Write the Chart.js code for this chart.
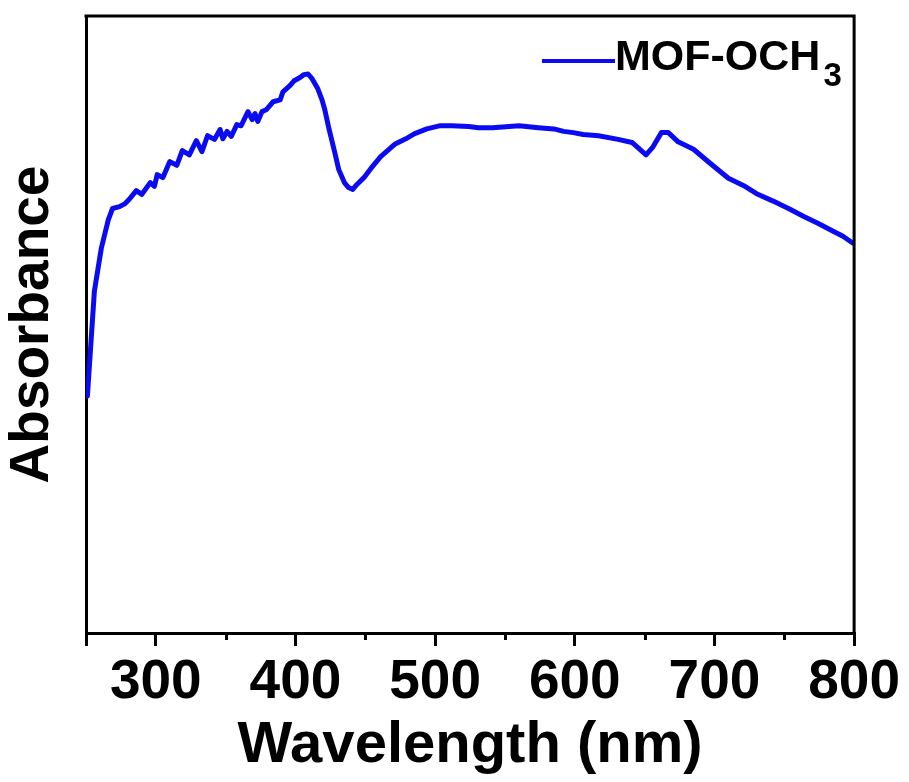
<!DOCTYPE html>
<html>
<head>
<meta charset="utf-8">
<script src="https://cdn.jsdelivr.net/npm/chart.js@4/dist/chart.umd.min.js"></script>
<style>
  html, body { margin: 0; padding: 0; background: #fff; }
  #wrap { width: 909px; height: 782px; }
</style>
</head>
<body>
<div id="wrap"><canvas id="c" width="909" height="782"></canvas></div>
<script>
// ---- data ----
const wavelength = [251, 256, 261, 266, 269, 274, 278, 281, 286, 290, 296, 299, 301, 305, 310, 315, 319, 324, 329, 333, 337, 342, 346, 348, 351, 354, 358, 361, 366, 369, 371, 373, 376, 379, 384, 389, 391, 396, 399, 403, 406, 409, 412, 416, 419, 421, 424, 428, 431, 435, 438, 441, 444, 449, 454, 461, 471, 479, 485, 494, 503, 512, 524, 531, 541, 553, 560, 574, 585, 592, 599, 606, 617, 631, 641, 646, 651, 656, 662, 667, 674, 685, 696, 710, 721, 731, 742, 753, 764, 774, 785, 792, 799];
const absorbance = [0.384, 0.554, 0.624, 0.670, 0.688, 0.691, 0.696, 0.703, 0.717, 0.711, 0.730, 0.724, 0.743, 0.738, 0.764, 0.758, 0.782, 0.775, 0.798, 0.780, 0.806, 0.800, 0.816, 0.801, 0.813, 0.805, 0.824, 0.822, 0.845, 0.832, 0.842, 0.829, 0.845, 0.848, 0.861, 0.864, 0.877, 0.887, 0.895, 0.900, 0.905, 0.906, 0.898, 0.882, 0.864, 0.848, 0.817, 0.780, 0.751, 0.730, 0.722, 0.719, 0.727, 0.738, 0.753, 0.772, 0.792, 0.801, 0.809, 0.817, 0.822, 0.822, 0.821, 0.819, 0.819, 0.821, 0.822, 0.819, 0.817, 0.813, 0.811, 0.808, 0.806, 0.800, 0.795, 0.785, 0.775, 0.788, 0.811, 0.811, 0.796, 0.784, 0.763, 0.737, 0.725, 0.711, 0.700, 0.688, 0.675, 0.664, 0.651, 0.643, 0.632];
const seriesName = 'MOF-OCH₃';
const legendMain = 'MOF-OCH';
const legendSub = '3';
const xMajorTicks = [250, 300, 400, 500, 600, 700, 800];
const xMinorTicks = [350, 450, 550, 650, 750];
const xTitle = 'Wavelength (nm)';
const yTitle = 'Absorbance';

const FONT = "'Liberation Sans', Arial, Helvetica, sans-serif";
const LINE_COLOR = '#0b0bf2';

const framePlugin = {
  id: 'frameAndLegend',
  afterDraw(chart) {
    const ctx = chart.ctx;
    const a = chart.chartArea;
    const xs = chart.scales.x;
    ctx.save();
    ctx.strokeStyle = '#000';
    ctx.lineWidth = 3;
    ctx.beginPath();
    ctx.moveTo(a.left - 1.5, a.top);
    ctx.lineTo(a.right, a.top);
    ctx.lineTo(a.right, a.bottom + 1.5);
    ctx.stroke();
    ctx.beginPath();
    xMinorTicks.forEach(v => {
      const px = Math.round(xs.getPixelForValue(v)) + 0.5;
      ctx.moveTo(px, a.bottom);
      ctx.lineTo(px, a.bottom + 7);
    });
    ctx.stroke();
    const lx0 = 542, lx1 = 615, ly = 61;
    ctx.strokeStyle = LINE_COLOR;
    ctx.lineWidth = 4;
    ctx.beginPath();
    ctx.moveTo(lx0, ly);
    ctx.lineTo(lx1, ly);
    ctx.stroke();
    ctx.fillStyle = '#000';
    ctx.textBaseline = 'alphabetic';
    ctx.textAlign = 'left';
    ctx.font = "bold 43px " + FONT;
    ctx.fillText(legendMain, lx1, 70);
    const w = ctx.measureText(legendMain).width;
    ctx.font = "bold 33px " + FONT;
    ctx.fillText(legendSub, lx1 + w + 3, 86);
    ctx.restore();
  }
};

new Chart(document.getElementById('c'), {
  type: 'line',
  data: {
    datasets: [{
      label: seriesName,
      data: wavelength.map((w, i) => ({ x: w, y: absorbance[i] })),
      borderColor: LINE_COLOR,
      backgroundColor: LINE_COLOR,
      borderWidth: 5,
      pointRadius: 0,
      tension: 0,
      borderJoinStyle: 'round',
      borderCapStyle: 'round',
      fill: false
    }]
  },
  options: {
    responsive: false,
    animation: false,
    events: [],
    layout: { padding: { top: 16, right: 54, left: 0, bottom: 0 } },
    plugins: {
      legend: { display: false },
      tooltip: { enabled: false }
    },
    scales: {
      x: {
        type: 'linear',
        min: 250,
        max: 800,
        afterBuildTicks: (s) => { s.ticks = xMajorTicks.map(v => ({ value: v })); },
        afterFit: (s) => { s.height = 149; },
        grid: {
          display: true,
          drawOnChartArea: false,
          drawTicks: true,
          tickLength: 13,
          lineWidth: 3,
          color: '#000'
        },
        border: { display: true, color: '#000', width: 3 },
        ticks: {
          color: '#000',
          padding: 9,
          maxRotation: 0,
          autoSkip: false,
          font: { family: FONT, size: 55, weight: 'bold', lineHeight: 1 },
          callback: (v) => (v === 250 ? '' : String(v))
        },
        title: {
          display: true,
          text: xTitle,
          color: '#000',
          font: { family: FONT, size: 58, weight: 'bold', lineHeight: 1 },
          padding: { top: 0, bottom: 7 }
        }
      },
      y: {
        type: 'linear',
        min: 0,
        max: 1,
        afterFit: (s) => { s.width = 86; },
        grid: { display: false, drawTicks: false },
        border: { display: true, color: '#000', width: 3 },
        ticks: { display: false },
        title: {
          display: true,
          text: yTitle,
          color: '#000',
          font: { family: FONT, size: 55, weight: 'bold', lineHeight: 1 },
          padding: { top: 5, bottom: 0 }
        }
      }
    }
  },
  plugins: [framePlugin]
});
</script>
</body>
</html>
